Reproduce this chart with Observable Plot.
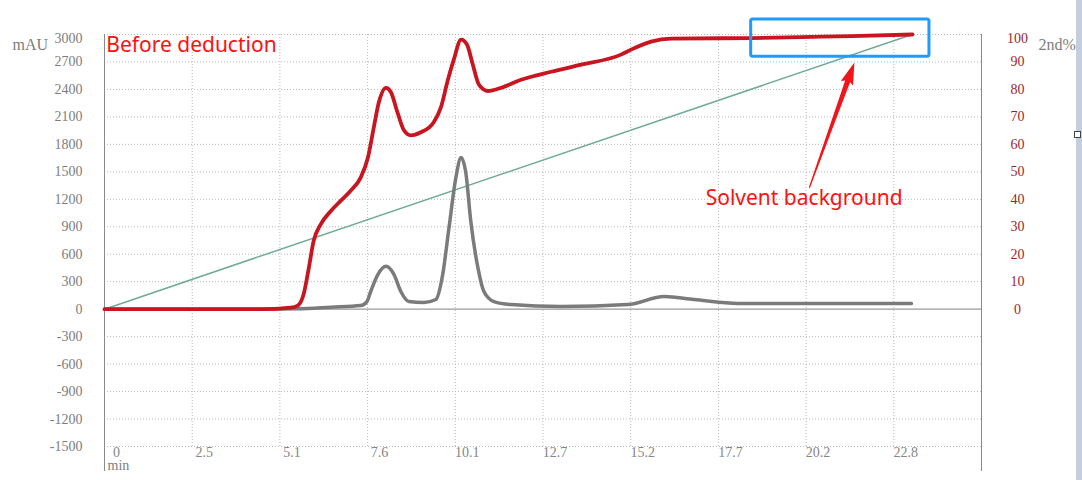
<!DOCTYPE html>
<html>
<head>
<meta charset="utf-8">
<script src="https://cdn.jsdelivr.net/npm/d3@7"></script>
<script src="https://cdn.jsdelivr.net/npm/@observablehq/plot@0.6"></script>
<style>
  html, body { margin: 0; padding: 0; background: #fff; }
  #wrap { position: relative; width: 1082px; height: 480px; overflow: hidden; }
  #edge { position: absolute; left: 1076px; top: 0; width: 6px; height: 480px; background: #c3cee0; }
  #handle { position: absolute; left: 1074px; top: 131px; width: 5px; height: 5px; border: 1px solid #444; background: #fff; }
</style>
</head>
<body>
<div id="wrap"><div id="edge"></div><div id="handle"></div></div>
<script>
// ---- data ----
const xTicks = [0, 2.5333, 5.0667, 7.6, 10.1333, 12.6667, 15.2, 17.7333, 20.2667, 22.8];
const xTickLabels = ["0", "2.5", "5.1", "7.6", "10.1", "12.7", "15.2", "17.7", "20.2", "22.8"];
const xDomain = [0, 25.3333];
const leftTicks = [3000, 2700, 2400, 2100, 1800, 1500, 1200, 900, 600, 300, 0, -300, -600, -900, -1200, -1500];
const rightTicks = [100, 90, 80, 70, 60, 50, 40, 30, 20, 10, 0];
const pctToMau = 30; // 100 % on right axis = 3000 mAU on left axis

// trace before deduction (mAU)
const redTime = [0, 4.5, 5.38, 5.58, 5.75, 5.90, 6.04, 6.25, 6.54, 6.82, 7.11, 7.40, 7.61, 7.78, 7.92, 8.13, 8.27, 8.47, 8.65, 8.85, 9.14, 9.51, 9.72, 9.92, 10.09, 10.30, 10.47, 10.64, 10.82, 11.08, 11.45, 12.03, 12.90, 13.77, 14.92, 15.21, 15.79, 16.37, 18.68, 20.13, 21.57, 23.34];
const redVal = [0, 0, 17, 39, 160, 446, 743, 930, 1073, 1183, 1294, 1437, 1657, 1987, 2251, 2417, 2373, 2141, 1954, 1899, 1932, 2042, 2207, 2505, 2725, 2945, 2890, 2670, 2450, 2383, 2417, 2505, 2593, 2670, 2780, 2835, 2923, 2956, 2961, 2972, 2983, 3000];

// trace after deduction (mAU)
const grayTime = [0, 4.5, 5.58, 6.54, 7.40, 7.58, 7.69, 7.90, 8.13, 8.36, 8.56, 8.79, 9.23, 9.57, 9.77, 9.95, 10.15, 10.30, 10.44, 10.58, 10.79, 10.96, 11.25, 11.74, 13.19, 15.12, 16.17, 17.03, 18.48, 19.93, 23.31];
const grayVal = [0, 0, 5, 22, 39, 83, 193, 380, 468, 380, 193, 83, 72, 105, 380, 886, 1437, 1657, 1481, 963, 446, 193, 83, 50, 28, 50, 138, 105, 61, 61, 61];

// gradient (2nd %)
const gradTime = [0, 23.33];
const gradPct = [0, 100];

// annotations
const noteText = ["Before deduction", "Solvent background"];
const noteX = [0.05, 20.21];
const noteY = [2879, 1216];
const boxX = [18.68, 23.83];
const boxY = [2758, 3165];
const arrowFrom = [20.36, 1327];

// ---- build ----
const red = redTime.map((t, i) => ({t, v: redVal[i]}));
const gray = grayTime.map((t, i) => ({t, v: grayVal[i]}));
const grad = gradTime.map((t, i) => ({t, v: gradPct[i] * pctToMau}));
const xIdx = xTicks.map((_, i) => i);
const serif = "'Liberation Serif', 'DejaVu Serif', serif";
const sans = "'Noto Sans', 'Open Sans', sans-serif";

// wedge-shaped arrow (points "up" before rotation)
const wedgeArrow = {
  draw(context, l) {
    const h = 20, hw = 6.5, sw = 2.6;
    context.moveTo(-0.6, 0);
    context.lineTo(-sw, -(l - h));
    context.lineTo(-hw, -(l - h - 2));
    context.lineTo(0, -l);
    context.lineTo(hw, -(l - h - 2));
    context.lineTo(sw, -(l - h));
    context.lineTo(0.6, 0);
    context.closePath();
  }
};

const chart = Plot.plot({
  width: 1082,
  height: 480,
  marginLeft: 104,
  marginRight: 101,
  marginTop: 34,
  marginBottom: 34,
  style: {fontFamily: serif, background: "transparent", overflow: "visible"},
  x: {domain: xDomain, axis: null},
  y: {domain: [-1500, 3000], axis: null},
  marks: [
    // dotted grid
    Plot.ruleY(leftTicks.filter(d => d !== 0), {stroke: "#b8b8b8", strokeWidth: 1, strokeDasharray: "1,2"}),
    Plot.ruleX(xTicks.slice(1), {stroke: "#b8b8b8", strokeWidth: 1, strokeDasharray: "1,2"}),
    // frame sides, extended below
    Plot.ruleX(xDomain, {stroke: "#8a8a8a", strokeWidth: 1, insetBottom: -25}),
    // zero line
    Plot.ruleY([0], {stroke: "#9a9a9a", strokeWidth: 1.2}),
    // left axis labels
    Plot.text(leftTicks.slice(1), {y: d => d, text: d => String(d), frameAnchor: "left", dx: -22, textAnchor: "end", fill: "#7d7d7d", fontSize: 14}),
    Plot.text(leftTicks.slice(0, 1), {y: d => d, text: d => String(d), frameAnchor: "left", dx: -22, dy: 4, textAnchor: "end", fill: "#7d7d7d", fontSize: 14}),
    // right axis labels
    Plot.text(rightTicks.slice(1), {y: d => d * pctToMau, text: d => String(d), frameAnchor: "right", dx: 36, textAnchor: "middle", fill: "#9c1f2e", fontSize: 14}),
    Plot.text(rightTicks.slice(0, 1), {y: d => d * pctToMau, text: d => String(d), frameAnchor: "right", dx: 36, dy: 4, textAnchor: "middle", fill: "#9c1f2e", fontSize: 14}),
    // x axis labels
    Plot.text(xIdx, {x: i => xTicks[i], text: i => xTickLabels[i], frameAnchor: "bottom", dx: 12, dy: 10, fill: "#858585", fontSize: 14}),
    // axis titles
    Plot.text(["mAU"], {frameAnchor: "top-left", dx: -92, dy: 4, textAnchor: "start", fill: "#7d7d7d", fontSize: 16}),
    Plot.text(["2nd%"], {frameAnchor: "top-right", dx: 57, dy: 4, textAnchor: "start", fill: "#7d7d7d", fontSize: 16}),
    Plot.text(["min"], {frameAnchor: "bottom-left", dx: 3, dy: 23, textAnchor: "start", fill: "#7d7d7d", fontSize: 14}),
    // gradient line
    Plot.line(grad, {x: "t", y: "v", stroke: "#6fab98", strokeWidth: 1.5}),
    // traces
    Plot.line(gray, {x: "t", y: "v", stroke: "#7b7b7b", strokeWidth: 3.5, curve: "monotone-x", strokeLinecap: "round"}),
    Plot.line(red, {x: "t", y: "v", stroke: "#c8151f", strokeWidth: 3.8, curve: "monotone-x", strokeLinecap: "round"}),
    // annotations
    Plot.rect([0], {x1: () => boxX[0], x2: () => boxX[1], y1: () => boxY[0], y2: () => boxY[1], fill: "none", stroke: "#1e9bff", strokeWidth: 3, rx: 2}),
    Plot.vector([0], {x: () => arrowFrom[0], y: () => arrowFrom[1], anchor: "start", length: 133, rotate: 19.8, shape: wedgeArrow, fill: "#f2141b", stroke: "none"}),
    Plot.text([0], {x: () => noteX[0], y: () => noteY[0], text: () => noteText[0], textAnchor: "start", fill: "#ff1010", fontSize: 21, fontFamily: sans}),
    Plot.text([1], {x: () => noteX[1], y: () => noteY[1], text: () => noteText[1], textAnchor: "middle", fill: "#ff1010", fontSize: 21, fontFamily: sans})
  ]
});
document.getElementById("wrap").prepend(chart);
</script>
</body>
</html>
